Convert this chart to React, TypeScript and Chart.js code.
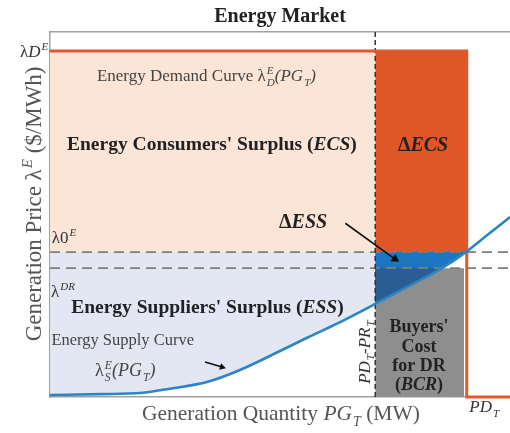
import { useEffect, useRef } from 'react';
import { Chart, registerables } from 'chart.js';

Chart.register(...registerables);

// ---- market levels (axis units 0..100) ----
const X_MAX = 100;
const Y_MAX = 100;
const lambdaD = 94.8; // λD^E demand price
const lambda0 = 39.7; // λ0^E
const lambdaDR = 35.3; // λ^DR
const qPR = 70.7; // PD_T - PR_T
const qPD = 90.6; // PD_T
const qGrayEnd = 90.0; // right edge of BCR block
const qDRcross = 85.2; // supply curve meets λ^DR
const qE0cross = 90.4; // supply curve meets λ0^E

// ---- energy supply curve λS^E(PG_T) ----
const supplyX = [0, 11, 19.6, 26.7, 34.1, 41.3, 50, 56, 62.4, qPR, 78, qDRcross, qE0cross, 95, 100];
const supplyY = [0.55, 0.8, 1.1, 2.4, 4.1, 7.4, 12.6, 16.3, 20.1, 25.5, 30.4, lambdaDR, lambda0, 44.3, 49.3];

// ---- demand curve λD^E(PG_T) ----
const demandX = [0, qPD, qPD, X_MAX];
const demandY = [lambdaD, lambdaD, 0, 0];

// ---- arrows ----
const arrowESS = { x: [64.2, 75.0], y: [47.6, 37.8], rot: 124 };
const arrowSupply = { x: [33.7, 37.4], y: [9.6, 8.2], rot: 106 };

const FONT = 'Liberation Serif';

type Seg = { t: string; i?: boolean; sup?: string; sub?: string };
type Label = {
  x: number; y: number; segs: Seg[]; size: number; bold?: boolean; color?: string;
  align?: 'left' | 'center' | 'right'; rotate?: number;
};

const labels: Label[] = [
  { x: -0.4, y: 93.2, size: 17, align: 'right', color: '#333', segs: [{ t: 'λ' }, { t: 'D', i: true, sup: 'E' }] },
  { x: 10.2, y: 86.6, size: 17, color: '#444', segs: [{ t: 'Energy Demand Curve ' }, { t: 'λ', sup: 'E', sub: 'D' }, { t: '(PG', i: true, sub: 'T' }, { t: ')', i: true }] },
  { x: 3.7, y: 67.7, size: 19.5, bold: true, color: '#222', segs: [{ t: "Energy Consumers' Surplus (" }, { t: 'ECS', i: true }, { t: ')' }] },
  { x: 81.1, y: 67.4, size: 20, bold: true, align: 'center', color: '#222', segs: [{ t: 'Δ' }, { t: 'ECS', i: true }] },
  { x: 49.8, y: 46.3, size: 20, bold: true, color: '#222', segs: [{ t: 'Δ' }, { t: 'ESS', i: true }] },
  { x: 0.4, y: 42.2, size: 17, color: '#333', segs: [{ t: 'λ0', sup: 'E' }] },
  { x: 0.2, y: 27.4, size: 17, color: '#333', segs: [{ t: 'λ', sup: 'DR' }] },
  { x: 4.6, y: 23.0, size: 19.5, bold: true, color: '#222', segs: [{ t: "Energy Suppliers' Surplus (" }, { t: 'ESS', i: true }, { t: ')' }] },
  { x: 0.3, y: 14.2, size: 16.5, color: '#444', segs: [{ t: 'Energy Supply Curve' }] },
  { x: 9.8, y: 5.8, size: 18, color: '#444', segs: [{ t: 'λ', sup: 'E', sub: 'S' }, { t: '(PG', i: true, sub: 'T' }, { t: ')', i: true }] },
  { x: 69.5, y: 12.3, size: 17, rotate: -90, align: 'center', color: '#333', segs: [{ t: 'PD', i: true, sub: 'T' }, { t: '-PR', i: true, sub: 'T' }] },
  { x: 80.2, y: 17.8, size: 18, bold: true, align: 'center', color: '#222', segs: [{ t: "Buyers'" }] },
  { x: 80.2, y: 12.4, size: 18, bold: true, align: 'center', color: '#222', segs: [{ t: 'Cost' }] },
  { x: 80.2, y: 7.1, size: 18, bold: true, align: 'center', color: '#222', segs: [{ t: 'for DR' }] },
  { x: 80.2, y: 1.8, size: 18, bold: true, align: 'center', color: '#222', segs: [{ t: '(' }, { t: 'BCR', i: true }, { t: ')' }] },
  { x: 50.2, y: -6.3, size: 21.5, align: 'center', color: '#555', segs: [{ t: 'Generation Quantity ' }, { t: 'PG', i: true, sub: 'T' }, { t: ' (MW)' }] },
  { x: 94.4, y: -4.1, size: 17, align: 'center', color: '#333', segs: [{ t: 'PD', i: true, sub: 'T' }] },
  { x: -1.9, y: 52.9, size: 23, rotate: -90, align: 'center', color: '#555', segs: [{ t: 'Generation Price ' }, { t: 'λ', sup: 'E' }, { t: ' ($/MWh)' }] },
];

const fontStr = (size: number, bold?: boolean, italic?: boolean) =>
  `${italic ? 'italic ' : ''}${bold ? 'bold ' : ''}${size}px "${FONT}"`;

function segWidth(ctx: CanvasRenderingContext2D, s: Seg, size: number, bold?: boolean) {
  ctx.font = fontStr(size, bold, s.i);
  const w = ctx.measureText(s.t).width;
  let sw = 0;
  const ss = size * 0.65;
  ctx.font = fontStr(ss, bold, true);
  if (s.sup) sw = Math.max(sw, ctx.measureText(s.sup).width);
  if (s.sub) sw = Math.max(sw, ctx.measureText(s.sub).width);
  return w + (sw ? sw + 1 : 0);
}

function drawLabel(ctx: CanvasRenderingContext2D, l: Label, px: number, py: number) {
  ctx.save();
  ctx.translate(px, py);
  if (l.rotate) ctx.rotate((l.rotate * Math.PI) / 180);
  ctx.fillStyle = l.color || '#222';
  ctx.textAlign = 'left';
  ctx.textBaseline = 'alphabetic';
  const total = l.segs.reduce((a, s) => a + segWidth(ctx, s, l.size, l.bold), 0);
  let x = l.align === 'center' ? -total / 2 : l.align === 'right' ? -total : 0;
  const y = 0;
  for (const s of l.segs) {
    ctx.font = fontStr(l.size, l.bold, s.i);
    ctx.fillText(s.t, x, y);
    x += ctx.measureText(s.t).width;
    const ss = l.size * 0.65;
    ctx.font = fontStr(ss, l.bold, true);
    let sw = 0;
    if (s.sup) {
      ctx.fillText(s.sup, x + 1, y - l.size * 0.4);
      sw = Math.max(sw, ctx.measureText(s.sup).width);
    }
    if (s.sub) {
      ctx.fillText(s.sub, x + 1, y + l.size * 0.27);
      sw = Math.max(sw, ctx.measureText(s.sub).width);
    }
    if (sw) x += sw + 1;
  }
  ctx.restore();
}

const textPlugin = {
  id: 'richText',
  afterDatasetsDraw(chart: any) {
    const { ctx, scales } = chart;
    for (const l of labels) {
      drawLabel(ctx, l, scales.x.getPixelForValue(l.x), scales.y.getPixelForValue(l.y));
    }
  },
};

const pts = (xs: number[], ys: number[]) => xs.map((x, i) => ({ x, y: ys[i] }));

export default function App() {
  const ref = useRef<HTMLCanvasElement>(null);
  useEffect(() => {
    document.body.style.margin = '0';
    const supply = pts(supplyX, supplyY);
    const supplyLeft = supply.filter((p) => p.x <= qPR);
    const midBlue = [{ x: qPR, y: lambda0 }, ...supply.filter((p) => p.x >= qPR && p.x <= qE0cross).reverse()];
    const darkBlue = [{ x: qPR, y: lambdaDR }, ...supply.filter((p) => p.x >= qPR && p.x <= qDRcross).reverse()];
    const none = 'rgba(0,0,0,0)';
    const area = (data: any[], color: string, fill: any, extra: any = {}) => ({
      data, fill, backgroundColor: color, borderColor: none, borderWidth: 0, pointRadius: 0, ...extra,
    });
    const layers: any[] = [
      area([{ x: 0, y: lambdaD }, { x: qPR, y: lambdaD }], '#FBE5D7', { value: lambda0 }),
      area(supplyLeft, '#E3E7F4', { value: lambda0 }, { cubicInterpolationMode: 'monotone' }),
      area([{ x: qPR, y: lambdaD }, { x: qPD, y: lambdaD }], '#DF5627', { value: lambda0 }),
      area([{ x: qPR, y: lambdaDR }, { x: qGrayEnd, y: lambdaDR }], '#8E8E8E', 'origin'),
      area(midBlue, '#1C77C0', 'shape'),
      area(darkBlue, '#2A5D92', 'shape'),
      { data: [{ x: 0, y: lambda0 }, { x: X_MAX, y: lambda0 }], borderColor: '#7d7d7d', borderWidth: 1.6, borderDash: [10, 6], fill: false },
      { data: [{ x: 0, y: lambdaDR }, { x: X_MAX, y: lambdaDR }], borderColor: '#7d7d7d', borderWidth: 1.6, borderDash: [10, 6], fill: false },
      { data: [{ x: qPR, y: 0 }, { x: qPR, y: Y_MAX }], borderColor: '#333', borderWidth: 1.5, borderDash: [5, 3], fill: false },
      { data: pts(demandX, demandY), borderColor: '#E0592C', borderWidth: 3, fill: false },
      { data: supply, borderColor: '#2B84C6', borderWidth: 2.6, fill: false, cubicInterpolationMode: 'monotone' },
      {
        data: pts(arrowESS.x, arrowESS.y), borderColor: '#111', borderWidth: 1.6, fill: false,
        pointRadius: [0, 5], pointStyle: 'triangle', pointRotation: [0, arrowESS.rot], pointBackgroundColor: '#111', pointBorderWidth: 0,
      },
      {
        data: pts(arrowSupply.x, arrowSupply.y), borderColor: '#111', borderWidth: 1.5, fill: false,
        pointRadius: [0, 4], pointStyle: 'triangle', pointRotation: [0, arrowSupply.rot], pointBackgroundColor: '#111', pointBorderWidth: 0,
      },
    ];
    const datasets = layers.map((d, i) => ({ tension: 0, clip: 6, ...d, order: layers.length - i }));
    const axisCommon = {
      type: 'linear' as const, min: 0, display: true,
      ticks: { display: false }, grid: { display: false, drawTicks: false },
      border: { display: true, color: '#a0a0a0', width: 1.5 },
    };
    const chart = new Chart(ref.current!, {
      type: 'line',
      data: { datasets },
      options: {
        animation: false,
        responsive: false,
        events: [],
        layout: { autoPadding: false, padding: { left: 50, right: 0, top: 0, bottom: 36 } },
        elements: { point: { radius: 0 } },
        plugins: {
          legend: { display: false },
          tooltip: { enabled: false },
          title: {
            display: true, text: 'Energy Market', color: '#222',
            font: { family: FONT, size: 20, weight: 'bold' }, padding: { top: 5, bottom: 3 },
          },
        },
        scales: {
          x: { ...axisCommon, max: X_MAX, position: 'bottom' },
          y: { ...axisCommon, max: Y_MAX, position: 'left' },
          xTop: { ...axisCommon, max: X_MAX, position: 'top' },
        },
      } as any,
      plugins: [textPlugin],
    });
    return () => chart.destroy();
  }, []);
  return (
    <div style={{ width: 510, height: 433, background: '#fff' }}>
      <canvas ref={ref} width={510} height={433} style={{ display: 'block' }} />
    </div>
  );
}
